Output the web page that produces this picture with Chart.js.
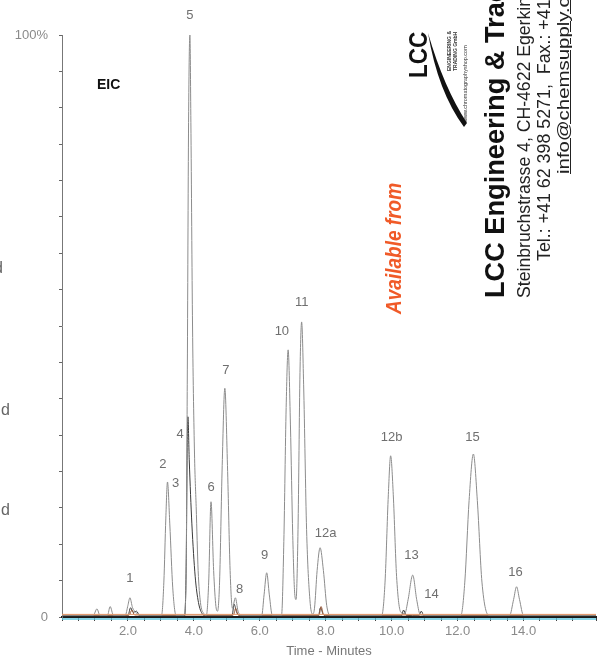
<!DOCTYPE html>
<html>
<head>
<meta charset="utf-8">
<script src="https://cdn.jsdelivr.net/npm/chart.js@4"></script>
<style>
html, body { margin: 0; padding: 0; background: #fff; overflow: hidden; }
#wrap { position: relative; width: 599px; height: 659px; overflow: hidden; }
#eic { position: absolute; left: 0; top: 0; }
.txt { position: absolute; white-space: nowrap; line-height: 1; font-family: "Liberation Sans", Arial, sans-serif; }
.rot { transform-origin: 0 0; }
</style>
</head>
<body>
<div id="wrap">
<canvas id="eic" width="599" height="659"></canvas>

<div class="txt" style="left:97px;top:77px;font-size:14px;font-weight:bold;color:#111;">EIC</div>
<div class="txt" style="left:-6px;top:260px;font-size:16px;color:#666;">d</div>
<div class="txt" style="left:1px;top:402px;font-size:16px;color:#666;">d</div>
<div class="txt" style="left:1px;top:502px;font-size:16px;color:#666;">d</div>

<!-- rotated supplier block -->
<div class="txt rot" style="left:383px;top:314px;font-size:22px;font-weight:bold;font-style:italic;color:#f05a28;transform:rotate(-90deg) scaleX(0.865);">Available from</div>
<div class="txt rot" style="left:406px;top:78px;font-size:25px;font-weight:bold;color:#111;transform:rotate(-90deg) scaleX(0.9);">LCC</div>
<div class="txt rot" style="left:447px;top:71px;font-size:5px;font-weight:bold;color:#333;transform:rotate(-90deg);">ENGINEERING &amp;</div>
<div class="txt rot" style="left:453px;top:71px;font-size:5px;font-weight:bold;color:#333;transform:rotate(-90deg);">TRADING GmbH</div>
<div class="txt rot" style="left:463px;top:122px;font-size:5.5px;color:#333;transform:rotate(-90deg);">www.chromatographyshop.com</div>
<svg width="599" height="659" style="position:absolute;left:0;top:0;">
  <path d="M464,127 Q438,92 428,33 Q444,88 467,123 Z" fill="#111"/>
</svg>
<div class="txt rot" style="left:481px;top:298px;font-size:28px;font-weight:bold;color:#111;transform:rotate(-90deg) scaleX(0.97);">LCC Engineering &amp; Trading GmbH</div>
<div class="txt rot" style="left:515px;top:298px;font-size:18px;color:#222;transform:rotate(-90deg) scaleX(0.98);">Steinbruchstrasse 4, CH-4622 Egerkingen</div>
<div class="txt rot" style="left:535px;top:261px;font-size:18px;color:#222;transform:rotate(-90deg) scaleX(0.99);">Tel.: +41 62 398 5271,&nbsp; Fax.: +41</div>
<div class="txt rot" style="left:555px;top:174px;font-size:17px;color:#222;text-decoration:underline;transform:rotate(-90deg) scaleX(1.2);">info@chemsupply.ch</div>
</div>

<script>
// ── Main EIC trace (time in minutes, % of base peak) ─────────
const mainTime = [
  0.0, 0.95, 1.06, 1.15, 1.38, 1.46, 1.56, 1.92, 2.0, 2.06, 2.14, 2.24, 2.34,
  3.02, 3.09, 3.15, 3.2, 3.27, 3.36, 3.46,
  3.7, 3.76, 3.8, 3.84, 3.88, 3.91, 3.96, 4.02, 4.07, 4.13, 4.2, 4.3,
  4.38, 4.45, 4.52, 4.6, 4.67, 4.72, 4.78, 4.86, 4.94, 5.02, 5.1, 5.17, 5.26, 5.34, 5.44,
  6.06, 6.13, 6.21, 6.29, 6.38,
  6.66, 6.73, 6.8, 6.86, 6.93, 7.0, 7.06, 7.1, 7.16, 7.22, 7.27, 7.33, 7.42, 7.52, 7.6,
  7.66, 7.74, 7.83, 7.93, 8.03, 8.13,
  9.7, 9.8, 9.9, 9.97, 10.05, 10.15, 10.28, 10.4, 10.5, 10.64, 10.76, 10.86, 11.0,
  12.1, 12.22, 12.35, 12.48, 12.6, 12.74, 12.95,
  13.58, 13.7, 13.79, 13.88, 14.0, 16.2
];
const mainSignal = [
  0.3, 0.3, 1.4, 0.3, 0.3, 1.8, 0.3, 0.3, 2.0, 3.3, 1.6, 0.8, 0.3,
  0.3, 6, 17, 23.2, 16, 5, 0.3,
  0.3, 5, 40, 85, 100, 85, 50, 28, 19, 8, 2.5, 0.6,
  0.3, 6, 19.8, 8, 1.8, 1.0, 6, 26, 39.3, 26, 8, 1.5, 3.3, 1, 0.3,
  0.3, 3.8, 7.6, 3.8, 0.3,
  0.3, 13, 36, 45.9, 33, 14, 4, 3, 15, 42, 50.7, 40, 15, 3, 0.5,
  1.5, 8, 11.9, 8, 2, 0.3,
  0.3, 6, 21, 27.7, 21, 7, 0.8, 0.6, 3, 7.2, 3, 0.5, 0.3,
  0.3, 6, 20, 28, 20, 6, 0.3,
  0.3, 3, 5.2, 3, 0.3, 0.3
];

// ── Second ion trace (peak 4 and small bumps) ────────────────
const ion2Time   = [0, 2.0, 2.08, 2.16, 2.26, 2.36, 3.72, 3.77, 3.8, 3.82, 3.86, 3.94, 4.04, 4.14, 4.26, 4.36,
                    5.16, 5.22, 5.3, 5.4, 7.78, 7.84, 7.92, 8.0, 10.3, 10.36, 10.44, 10.82, 10.9, 10.98, 16.2];
const ion2Signal = [0.2, 0.2, 1.6, 0.8, 1.0, 0.2, 0.2, 10, 30, 34.4, 27, 16, 7, 2.5, 0.5, 0.2,
                    0.2, 2.2, 0.8, 0.2, 0.2, 1.6, 0.5, 0.2, 0.2, 1.2, 0.3, 0.2, 1.0, 0.2, 0.2];

// ── Third ion trace (brown, tiny) ────────────────────────────
const ion3Time   = [0, 2.04, 2.12, 2.2, 5.2, 5.27, 5.34, 7.8, 7.86, 7.94, 16.2];
const ion3Signal = [0.35, 0.35, 1.2, 0.35, 0.35, 1.5, 0.35, 0.35, 1.8, 0.35, 0.35];

// ── Flat baselines ───────────────────────────────────────────
const baseTime   = [0, 16.2];
const orangeBase = [0.45, 0.45];
const cyanBase   = [-0.35, -0.35];

// ── Peak labels ──────────────────────────────────────────────
const peakNames  = ["1", "2", "3", "4", "5", "6", "7", "8", "9", "10", "11", "12a", "12b", "13", "14", "15", "16"];
const labelTime  = [2.06, 3.06, 3.45, 3.58, 3.88, 4.52, 4.97, 5.39, 6.15, 6.67, 7.27, 8.0, 10.0, 10.6, 11.21, 12.45, 13.76];
const labelLevel = [6.7, 26.3, 22.9, 31.4, 103.3, 22.2, 42.4, 4.8, 10.5, 49.1, 54.1, 14.4, 30.9, 10.5, 3.8, 30.8, 7.7];

const xTickLabels = [2, 4, 6, 8, 10, 12, 14];

function pts(ts, vs) { return ts.map((t, i) => ({ x: t, y: vs[i] })); }

function trace(data, color, width) {
    return {
        data,
        borderColor: color,
        borderWidth: width,
        pointRadius: 0,
        cubicInterpolationMode: "monotone",
        fill: false,
        clip: false
    };
}

const peakLabels = {
    id: "peakLabels",
    afterDatasetsDraw(chart) {
        const { ctx, scales: { x, y } } = chart;
        ctx.save();
        ctx.font = "13px 'Liberation Sans', Arial, sans-serif";
        ctx.fillStyle = "#6f6f6f";
        ctx.textAlign = "center";
        ctx.textBaseline = "middle";
        peakNames.forEach((n, i) => {
            ctx.fillText(n, x.getPixelForValue(labelTime[i]), y.getPixelForValue(labelLevel[i]));
        });
        ctx.restore();
    }
};

new Chart(document.getElementById("eic"), {
    type: "line",
    data: {
        datasets: [
            trace(pts(baseTime, cyanBase), "#5fc8e0", 1.5),
            trace(pts(baseTime, orangeBase), "#e89a6a", 1),
            trace(pts(mainTime, mainSignal), "#8c8c8c", 1),
            trace(pts(ion3Time, ion3Signal), "#9a5a3a", 1),
            trace(pts(ion2Time, ion2Signal), "#3a3a3a", 1)
        ]
    },
    options: {
        responsive: false,
        animation: false,
        layout: { padding: { top: 35, right: 0, left: 0, bottom: 0 } },
        plugins: { legend: { display: false }, tooltip: { enabled: false } },
        scales: {
            x: {
                type: "linear",
                min: 0,
                max: 16.2,
                ticks: {
                    stepSize: 0.5,
                    autoSkip: false,
                    maxRotation: 0,
                    color: "#8a8a8a",
                    font: { size: 13, family: "'Liberation Sans', Arial, sans-serif" },
                    padding: 3,
                    callback: v => xTickLabels.includes(v) ? v.toFixed(1) : ""
                },
                grid: { drawOnChartArea: false, tickLength: 4, color: "#444" },
                border: { color: "#1a1a1a", width: 2 },
                title: {
                    display: true,
                    text: "Time - Minutes",
                    color: "#777",
                    font: { size: 13, family: "'Liberation Sans', Arial, sans-serif" },
                    padding: { top: 0, bottom: 0 }
                },
                afterFit(s) { s.height = 42; }
            },
            y: {
                min: 0,
                max: 100,
                ticks: {
                    stepSize: 6.25,
                    autoSkip: false,
                    color: "#8a8a8a",
                    font: { size: 13, family: "'Liberation Sans', Arial, sans-serif" },
                    padding: 11,
                    callback: v => v === 100 ? "100%" : (v === 0 ? "0" : "")
                },
                grid: { drawOnChartArea: false, tickLength: 3, color: "#666" },
                border: { color: "#777", width: 1 },
                afterFit(s) { s.width = 62; }
            }
        }
    },
    plugins: [peakLabels]
});
</script>
</body>
</html>
